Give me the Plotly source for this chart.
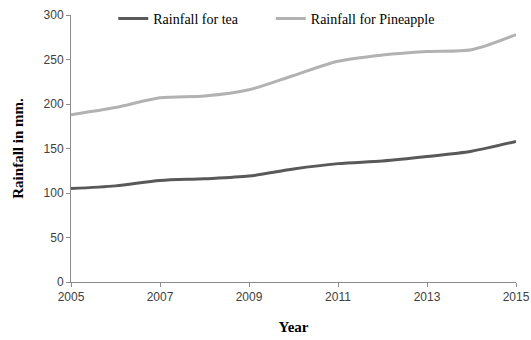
import plotly.graph_objects as go

years = [2005, 2006, 2007, 2008, 2009, 2010, 2011, 2012, 2013, 2014, 2015]
rain_tea = [105, 108, 114, 116, 119, 127, 133, 136, 141, 147, 158]
rain_pineapple = [188, 196, 207, 209, 216, 232, 248, 255, 259, 261, 278]
x_ticks = [2005, 2007, 2009, 2011, 2013, 2015]
y_ticks = [0, 50, 100, 150, 200, 250, 300]

fig = go.Figure()
fig.add_trace(go.Scatter(
    x=years, y=rain_tea, mode="lines", name="Rainfall for tea",
    line=dict(color="#595959", width=3, shape="spline", smoothing=0.8),
    legend="legend",
))
fig.add_trace(go.Scatter(
    x=years, y=rain_pineapple, mode="lines", name="Rainfall for Pineapple",
    line=dict(color="#b2b2b2", width=3, shape="spline", smoothing=0.8),
    legend="legend2",
))

axis_font = dict(family="Liberation Sans, Arial, sans-serif", size=12, color="#404040")
title_font = dict(family="Liberation Serif, Times New Roman, serif", size=15, color="#000000")
legend_style = dict(
    orientation="h", yanchor="top", y=1.045, xanchor="left",
    font=dict(family="Liberation Serif", size=14, color="#000000"),
    bgcolor="rgba(0,0,0,0)", itemwidth=30,
)

fig.update_layout(
    width=531, height=340,
    margin=dict(l=71, r=15, t=15, b=58, autoexpand=False),
    paper_bgcolor="white", plot_bgcolor="white",
    showlegend=True,
    legend=dict(x=0.095, **legend_style),
    legend2=dict(x=0.449, **legend_style),
    xaxis=dict(
        range=[2005, 2015], tickvals=x_ticks, ticktext=[str(v) for v in x_ticks],
        showgrid=False, zeroline=False, showline=True, linecolor="#8c8c8c", linewidth=1,
        ticks="outside", ticklen=4, tickcolor="#8c8c8c", tickfont=axis_font,
        automargin=False,
        title=dict(text="<b>Year</b>", font=title_font, standoff=18),
    ),
    yaxis=dict(
        range=[0, 300], tickvals=y_ticks,
        showgrid=False, zeroline=False, showline=True, linecolor="#8c8c8c", linewidth=1,
        ticks="outside", ticklen=4, tickcolor="#8c8c8c", tickfont=axis_font,
        automargin=False,
        title=dict(text="<b>Rainfall in mm.</b>", font=title_font, standoff=16),
    ),
)

fig.write_html("out.html")
